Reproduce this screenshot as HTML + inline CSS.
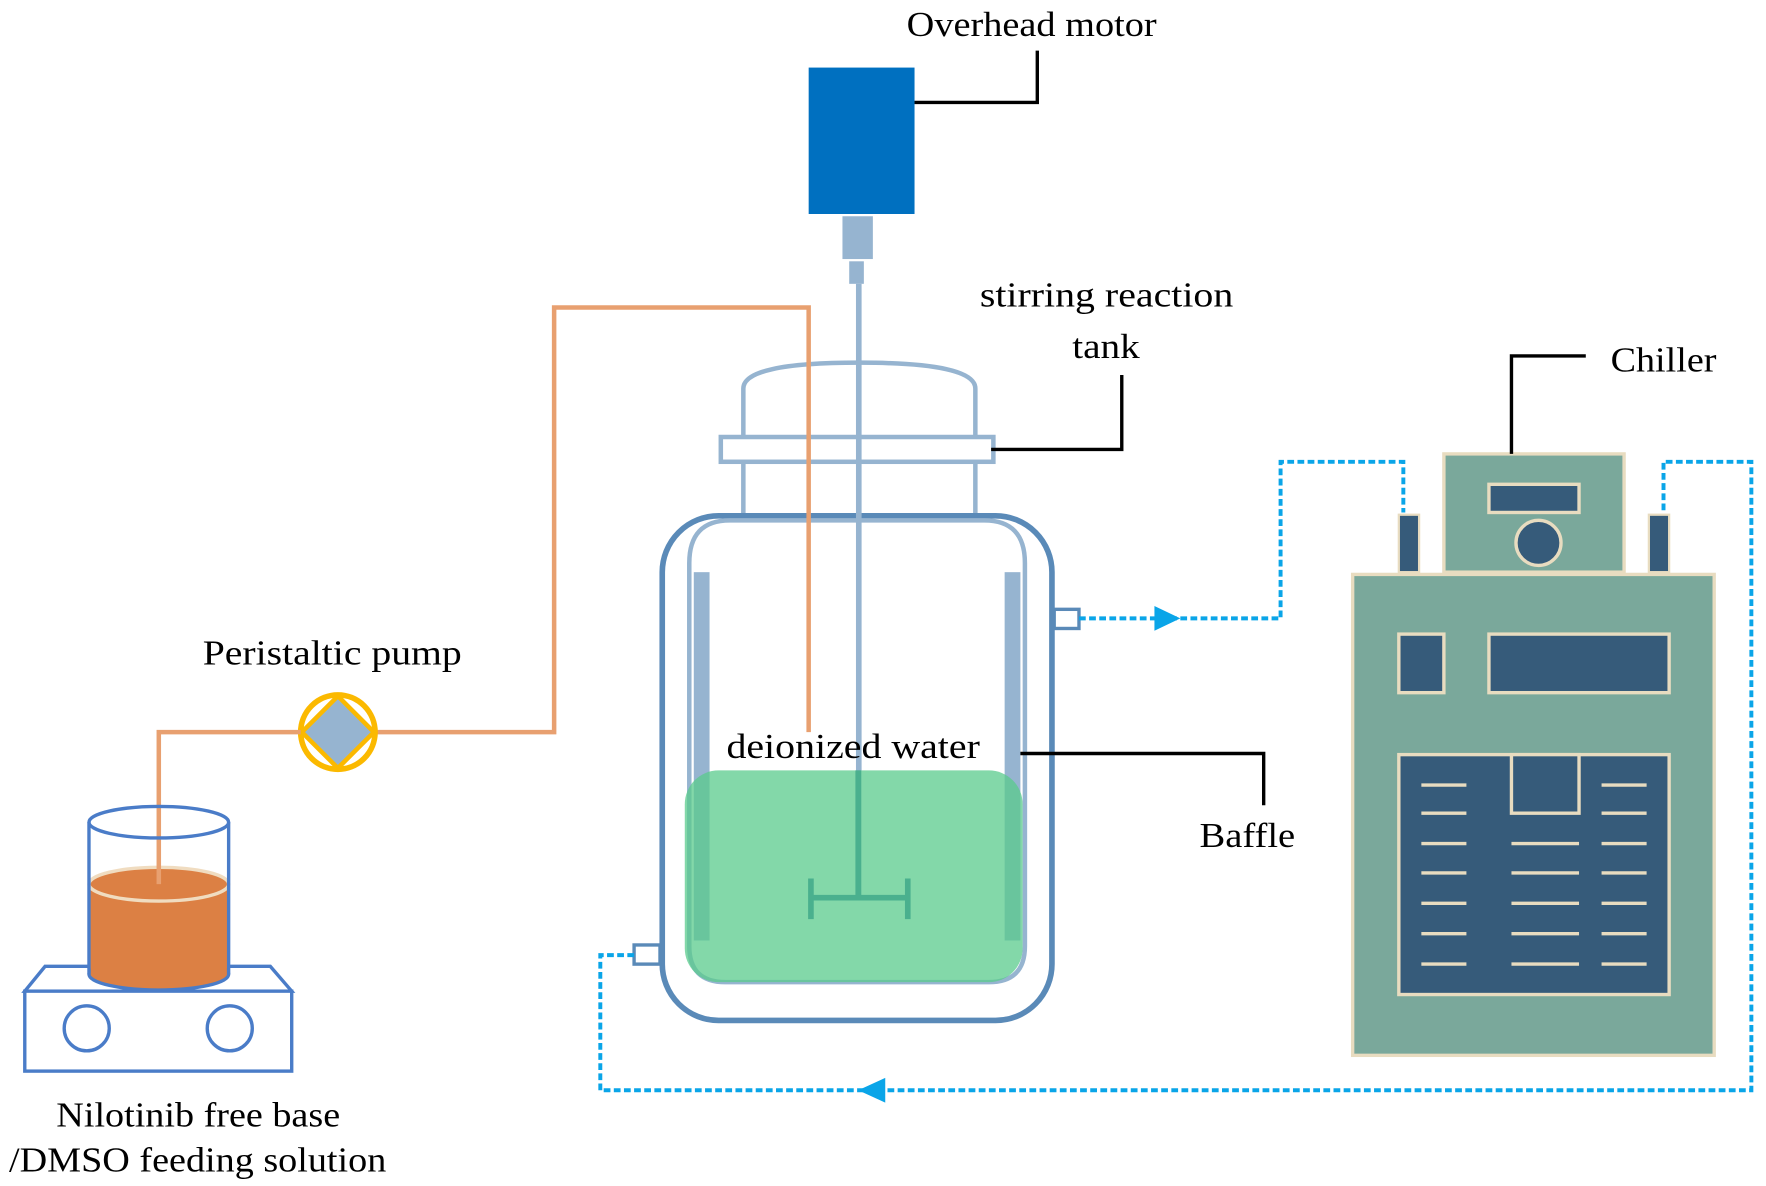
<!DOCTYPE html>
<html><head><style>html,body{margin:0;padding:0;background:#fff}svg{display:block}</style></head>
<body>
<svg width="1766" height="1186" viewBox="0 0 1568 1053" preserveAspectRatio="none" xmlns="http://www.w3.org/2000/svg" font-family="Liberation Serif, serif" font-size="31" fill="#000">
<!-- motor -->
<rect x="718" y="60" width="94" height="130" fill="#0070c0"/>
<rect x="748" y="192" width="27" height="38" fill="#96b4d0"/>
<rect x="754" y="232" width="13" height="20" fill="#96b4d0"/>
<polyline points="812,91 921,91 921,45" fill="none" stroke="#000" stroke-width="3"/>
<text x="805" y="32" textLength="222" lengthAdjust="spacingAndGlyphs">Overhead motor</text>
<!-- lid -->
<path d="M660,458 V345 Q660,322 763,322 Q866,322 866,345 V458" fill="none" stroke="#96b4d0" stroke-width="4"/>
<rect x="640" y="388" width="242" height="22" fill="#fff" stroke="#96b4d0" stroke-width="4"/>
<polyline points="880,399 996,399 996,333" fill="none" stroke="#000" stroke-width="3"/>
<text x="870" y="272" textLength="225" lengthAdjust="spacingAndGlyphs">stirring reaction</text>
<text x="952" y="318" textLength="60" lengthAdjust="spacingAndGlyphs">tank</text>
<!-- jacket -->
<rect x="588" y="458" width="346" height="448" rx="50" fill="#fff" stroke="#5a8ab8" stroke-width="5"/>
<path d="M612,500 Q612,462 648,462 H874 Q910,462 910,500 V840 Q910,872 878,872 H644 Q612,872 612,840 Z" fill="#fff" stroke="#96b4d0" stroke-width="4"/>
<rect x="616" y="508" width="14" height="327" fill="#96b4d0"/>
<rect x="892" y="508" width="14" height="327" fill="#96b4d0"/>
<rect x="760" y="252" width="5" height="545" fill="#96b4d0"/>
<rect x="608" y="684" width="300" height="188" rx="30" fill="#5acb8c" fill-opacity="0.75"/>
<path d="M720,780 V816 M806,780 V816 M720,797 H806 M762,684 V797" stroke="#4ab08e" stroke-width="5" fill="none"/>
<text x="645" y="673" textLength="225" lengthAdjust="spacingAndGlyphs">deionized water</text>
<polyline points="906,669 1122,669 1122,715" fill="none" stroke="#000" stroke-width="3"/>
<text x="1065" y="752" textLength="85" lengthAdjust="spacingAndGlyphs">Baffle</text>
<!-- ports -->
<rect x="936" y="541" width="22" height="17" fill="#fff" stroke="#5a8ab8" stroke-width="3"/>
<rect x="563" y="839" width="23" height="17" fill="#fff" stroke="#5a8ab8" stroke-width="3"/>
<!-- coolant lines -->
<g fill="none" stroke="#0aa5e8" stroke-width="3.5" stroke-dasharray="6,3">
<polyline points="958,549 1137,549 1137,410 1246,410 1246,455"/>
<polyline points="563,848 533,848 533,968 1555,968 1555,410 1477,410 1477,455"/>
</g>
<polygon points="1025,538 1048,549 1025,560" fill="#0aa5e8"/>
<polygon points="786,957 762,968 786,979" fill="#0aa5e8"/>
<!-- chiller -->
<rect x="1282" y="403" width="160" height="105" fill="#7aa89b" stroke="#e8dcc0" stroke-width="3"/>
<rect x="1322" y="430" width="80" height="25" fill="#365b7a" stroke="#e8dcc0" stroke-width="3"/>
<circle cx="1366" cy="482" r="20" fill="#365b7a" stroke="#e8dcc0" stroke-width="3"/>
<rect x="1242" y="457" width="18" height="51" fill="#365b7a" stroke="#e8dcc0" stroke-width="2"/>
<rect x="1464" y="457" width="18" height="51" fill="#365b7a" stroke="#e8dcc0" stroke-width="2"/>
<rect x="1201" y="510" width="321" height="427" fill="#7aa89b" stroke="#e8dcc0" stroke-width="3"/>
<rect x="1242" y="563" width="40" height="52" fill="#365b7a" stroke="#e8dcc0" stroke-width="3"/>
<rect x="1322" y="563" width="160" height="52" fill="#365b7a" stroke="#e8dcc0" stroke-width="3"/>
<rect x="1242" y="670" width="240" height="213" fill="#365b7a" stroke="#e8dcc0" stroke-width="3"/>
<rect x="1342" y="670" width="60" height="52" fill="#365b7a" stroke="#e8dcc0" stroke-width="3"/>
<g stroke="#e8dcc0" stroke-width="3">
<path d="M1262,697H1302M1262,722H1302M1262,749H1302M1262,775H1302M1262,802H1302M1262,829H1302M1262,856H1302"/>
<path d="M1342,749H1402M1342,775H1402M1342,802H1402M1342,829H1402M1342,856H1402"/>
<path d="M1422,697H1462M1422,722H1462M1422,749H1462M1422,775H1462M1422,802H1462M1422,829H1462M1422,856H1462"/>
</g>
<polyline points="1342,403 1342,316 1408,316" fill="none" stroke="#000" stroke-width="3"/>
<text x="1430" y="330" textLength="94" lengthAdjust="spacingAndGlyphs">Chiller</text>
<!-- tubing -->
<polyline points="333,650 492,650 492,273 718,273 718,650" fill="none" stroke="#e8a070" stroke-width="4"/>
<!-- pump -->
<circle cx="300" cy="650" r="33" fill="#fff" stroke="#fbb900" stroke-width="5"/>
<polygon points="300,618 332,650 300,682 268,650" fill="#96b4d0" stroke="#fbb900" stroke-width="4"/>
<text x="180" y="590" textLength="230" lengthAdjust="spacingAndGlyphs">Peristaltic pump</text>
<!-- plate -->
<polygon points="40,858 240,858 259,880 22,880" fill="#fff" stroke="#4a7cc8" stroke-width="3"/>
<rect x="22" y="880" width="237" height="71" fill="#fff" stroke="#4a7cc8" stroke-width="3"/>
<circle cx="77" cy="913" r="20" fill="#fff" stroke="#4a7cc8" stroke-width="3"/>
<circle cx="204" cy="913" r="20" fill="#fff" stroke="#4a7cc8" stroke-width="3"/>
<!-- beaker -->
<rect x="79" y="785" width="124" height="80" fill="#dc8044"/>
<ellipse cx="141" cy="865" rx="62" ry="14" fill="#dc8044" stroke="#4a7cc8" stroke-width="3"/>
<rect x="80.5" y="785" width="121" height="80" fill="#dc8044"/>
<ellipse cx="141" cy="785" rx="62" ry="15" fill="#dc8044" stroke="#f0dcc0" stroke-width="3"/>
<polyline points="141,785 141,650 267,650" fill="none" stroke="#e8a070" stroke-width="4"/>
<ellipse cx="141" cy="730" rx="62" ry="14" fill="none" stroke="#4a7cc8" stroke-width="3"/>
<path d="M79,730V865M203,730V865" stroke="#4a7cc8" stroke-width="3"/>
<text x="50" y="1000" textLength="252" lengthAdjust="spacingAndGlyphs">Nilotinib free base</text>
<text x="8" y="1040" textLength="335" lengthAdjust="spacingAndGlyphs">/DMSO feeding solution</text>
</svg>
</body></html>
